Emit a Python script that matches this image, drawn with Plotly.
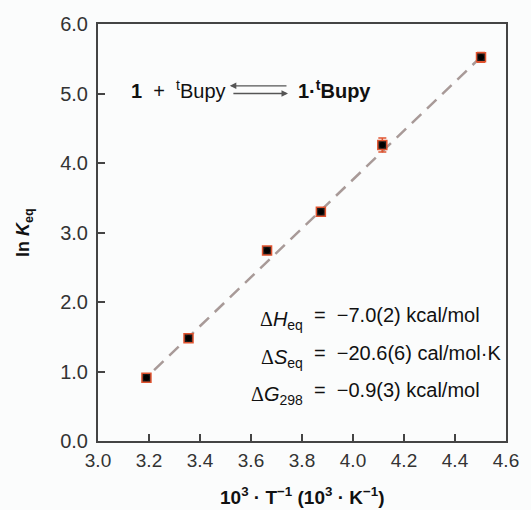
import plotly.graph_objects as go

# data
inv_T = [3.19, 3.355, 3.663, 3.874, 4.115, 4.502]
ln_K = [0.91, 1.48, 2.74, 3.30, 4.26, 5.52]
ln_K_err = [0.03, 0.03, 0.03, 0.04, 0.10, 0.07]
fit_x = [3.22, 4.50]
fit_y = [1.02, 5.52]
x_ticks = [3.0, 3.2, 3.4, 3.6, 3.8, 4.0, 4.2, 4.4, 4.6]
y_ticks = [0.0, 1.0, 2.0, 3.0, 4.0, 5.0, 6.0]

FONT = "Liberation Sans, Arial, sans-serif"
SERIF = "Liberation Serif, Times New Roman, serif"
RED = "#e0532f"

fig = go.Figure()
fig.add_trace(go.Scatter(
    x=fit_x, y=fit_y, mode="lines",
    line=dict(color="#a89a98", width=2.5, dash="13px,8px"),
    hoverinfo="skip", showlegend=False))
fig.add_trace(go.Scatter(
    x=inv_T, y=ln_K, mode="markers",
    error_y=dict(type="data", array=ln_K_err, color=RED, thickness=1.5, width=4),
    marker=dict(symbol="square", size=9, color="#1a1a1a",
                line=dict(color=RED, width=1.5)),
    showlegend=False))
fig.add_trace(go.Scatter(
    x=inv_T, y=ln_K, mode="markers",
    marker=dict(symbol="circle", size=6, color="#000000"),
    showlegend=False))

axis_common = dict(
    showgrid=False, zeroline=False, showline=True, linecolor="#444444",
    linewidth=2, mirror=True, ticks="inside", ticklen=7, tickwidth=1.5,
    tickcolor="#444444")

fig.update_layout(
    width=531, height=510,
    margin=dict(l=98, r=15, t=24, b=69),
    paper_bgcolor="#fbfcfc", plot_bgcolor="#fbfcfc",
    xaxis=dict(range=[3.0, 4.6], tickvals=x_ticks,
               ticktext=[f"{v:.1f}" for v in x_ticks], ticklabelstandoff=1,
               tickfont=dict(family=FONT, size=19, color="#333333"),
               **axis_common),
    yaxis=dict(range=[0, 6.0], tickvals=y_ticks,
               ticktext=[f"{v:.1f}" for v in y_ticks], ticklabelstandoff=4,
               tickfont=dict(family=FONT, size=20, color="#333333"),
               **axis_common),
    font=dict(family=FONT, color="#111111"),
)

# axis titles
fig.add_annotation(xref="paper", yref="paper", x=0.5, y=-0.132, yanchor="middle",
                   showarrow=False,
                   text="<b>10<sup>3</sup> · T<sup>−1</sup> (10<sup>3</sup> · K<sup>−1</sup>)</b>",
                   font=dict(family=FONT, size=19, color="#111111"))
fig.add_annotation(xref="paper", yref="paper", x=-0.18, y=0.5, textangle=-90,
                   xanchor="center", yanchor="middle", showarrow=False,
                   text="<b>ln <i>K</i><sub>eq</sub></b>",
                   font=dict(family=FONT, size=18, color="#111111"))

# reaction equation
fig.add_annotation(xref="x", yref="y", x=3.51, y=5.06, xanchor="right",
                   showarrow=False,
                   text="<b>1</b>  +  <sup>t</sup>Bupy",
                   font=dict(family=FONT, size=20, color="#111111"))
fig.add_annotation(xref="x", yref="y", x=3.775, y=5.06, xanchor="left",
                   showarrow=False,
                   text="<b>1·<sup>t</sup>Bupy</b>",
                   font=dict(family=FONT, size=20, color="#111111"))
# equilibrium arrows
fig.add_annotation(xref="x", yref="y", axref="x", ayref="y",
                   x=3.517, y=5.11, ax=3.745, ay=5.11, text="",
                   showarrow=True, arrowhead=2, arrowsize=1, arrowwidth=1.3,
                   arrowcolor="#555555", standoff=0, startstandoff=0)
fig.add_annotation(xref="x", yref="y", axref="x", ayref="y",
                   x=3.745, y=5.0, ax=3.525, ay=5.0, text="",
                   showarrow=True, arrowhead=2, arrowsize=1, arrowwidth=1.3,
                   arrowcolor="#555555", standoff=0, startstandoff=0)

# thermodynamic parameters
D = f"<span style='font-family:{SERIF}'>Δ</span>"
labels = [D + "<i>H</i><sub>eq</sub>", D + "<i>S</i><sub>eq</sub>", D + "<i>G</i><sub>298</sub>"]
values = ["=  −7.0(2) kcal/mol", "=  −20.6(6) cal/mol·K", "=  −0.9(3) kcal/mol"]
value_y = [1.81, 1.27, 0.73]
for lab, val, yy in zip(labels, values, value_y):
    fig.add_annotation(xref="x", yref="y", x=3.81, y=yy - 0.08, xanchor="right",
                       showarrow=False, text=lab,
                       font=dict(family=FONT, size=20, color="#111111"))
    fig.add_annotation(xref="x", yref="y", x=3.838, y=yy, xanchor="left",
                       showarrow=False, text=val,
                       font=dict(family=FONT, size=20, color="#111111"))

fig.write_html("out.html")
